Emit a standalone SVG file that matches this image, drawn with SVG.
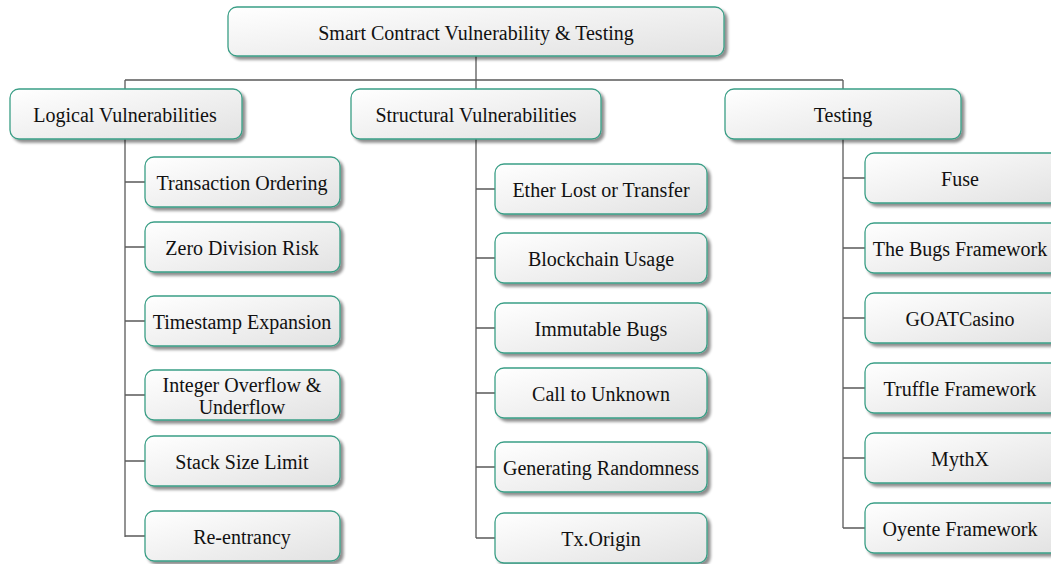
<svg xmlns="http://www.w3.org/2000/svg" width="1051" height="564" viewBox="0 0 1051 564">
<defs>
<linearGradient id="g" x1="0" y1="0" x2="1" y2="1">
<stop offset="0" stop-color="#ffffff"/>
<stop offset="1" stop-color="#e2e2e2"/>
</linearGradient>
<filter id="sh" x="-10%" y="-20%" width="125%" height="150%">
<feGaussianBlur in="SourceAlpha" stdDeviation="1.5"/>
<feOffset dx="2.5" dy="2.5" result="o"/>
<feComponentTransfer><feFuncA type="linear" slope="0.45"/></feComponentTransfer>
<feMerge><feMergeNode/><feMergeNode in="SourceGraphic"/></feMerge>
</filter>
</defs>
<style>
.b{fill:url(#g);stroke:#3a9e86;stroke-width:1.3;filter:url(#sh)}
.t{font-family:"Liberation Serif","Times New Roman",serif;font-size:20px;fill:#111;text-anchor:middle;dominant-baseline:central}
.c{stroke:#5a5a5a;stroke-width:1.3;fill:none}
</style>
<rect width="1051" height="564" fill="#fff"/>
<g id="connectors">
<path class="c" d="M476 56V80M125 80H843M125 80V89M476 80V89M843 80V89"/>
<path class="c" d="M125 139V537M125 182H145M125 247H145M125 321H145M125 395H145M125 461H145M125 536H145"/>
<path class="c" d="M476 139V538M476 189H495M476 258H495M476 328H495M476 393H495M476 467H495M476 538H495"/>
<path class="c" d="M843 139V528M843 178H865M843 248H865M843 318H865M843 388H865M843 458H865M843 528H865"/>
</g>
<g id="root"><rect class="b" x="228" y="7" width="496" height="49" rx="9"/><text class="t" x="476" y="33">Smart Contract Vulnerability &amp; Testing</text></g>
<g id="logical"><rect class="b" x="10" y="89" width="232" height="50" rx="9"/><text class="t" x="125" y="115">Logical Vulnerabilities</text></g>
<g id="structural"><rect class="b" x="351" y="89" width="250" height="50" rx="9"/><text class="t" x="476" y="115">Structural Vulnerabilities</text></g>
<g id="testing"><rect class="b" x="725" y="89" width="236" height="50" rx="9"/><text class="t" x="843" y="115">Testing</text></g>
<g id="l1"><rect class="b" x="145" y="157" width="195" height="50" rx="9"/><text class="t" x="242" y="183">Transaction Ordering</text></g>
<g id="l2"><rect class="b" x="145" y="222" width="195" height="50" rx="9"/><text class="t" x="242" y="248">Zero Division Risk</text></g>
<g id="l3"><rect class="b" x="145" y="296" width="195" height="50" rx="9"/><text class="t" x="242" y="322">Timestamp Expansion</text></g>
<g id="l4"><rect class="b" x="145" y="370" width="195" height="50" rx="9"/><text class="t" x="242" y="385">Integer Overflow &amp;</text><text class="t" x="242" y="407">Underflow</text></g>
<g id="l5"><rect class="b" x="145" y="436" width="195" height="50" rx="9"/><text class="t" x="242" y="462">Stack Size Limit</text></g>
<g id="l6"><rect class="b" x="145" y="511" width="195" height="50" rx="9"/><text class="t" x="242" y="537">Re-entrancy</text></g>
<g id="s1"><rect class="b" x="495" y="164" width="212" height="50" rx="9"/><text class="t" x="601" y="190">Ether Lost or Transfer</text></g>
<g id="s2"><rect class="b" x="495" y="233" width="212" height="50" rx="9"/><text class="t" x="601" y="259">Blockchain Usage</text></g>
<g id="s3"><rect class="b" x="495" y="303" width="212" height="50" rx="9"/><text class="t" x="601" y="329">Immutable Bugs</text></g>
<g id="s4"><rect class="b" x="495" y="368" width="212" height="50" rx="9"/><text class="t" x="601" y="394">Call to Unknown</text></g>
<g id="s5"><rect class="b" x="495" y="442" width="212" height="50" rx="9"/><text class="t" x="601" y="468">Generating Randomness</text></g>
<g id="s6"><rect class="b" x="495" y="513" width="212" height="50" rx="9"/><text class="t" x="601" y="539">Tx.Origin</text></g>
<g id="t1"><rect class="b" x="865" y="153" width="195" height="50" rx="9"/><text class="t" x="960" y="179">Fuse</text></g>
<g id="t2"><rect class="b" x="865" y="223" width="195" height="50" rx="9"/><text class="t" x="960" y="249">The Bugs Framework</text></g>
<g id="t3"><rect class="b" x="865" y="293" width="195" height="50" rx="9"/><text class="t" x="960" y="319">GOATCasino</text></g>
<g id="t4"><rect class="b" x="865" y="363" width="195" height="50" rx="9"/><text class="t" x="960" y="389">Truffle Framework</text></g>
<g id="t5"><rect class="b" x="865" y="433" width="195" height="50" rx="9"/><text class="t" x="960" y="459">MythX</text></g>
<g id="t6"><rect class="b" x="865" y="503" width="195" height="50" rx="9"/><text class="t" x="960" y="529">Oyente Framework</text></g>
</svg>
